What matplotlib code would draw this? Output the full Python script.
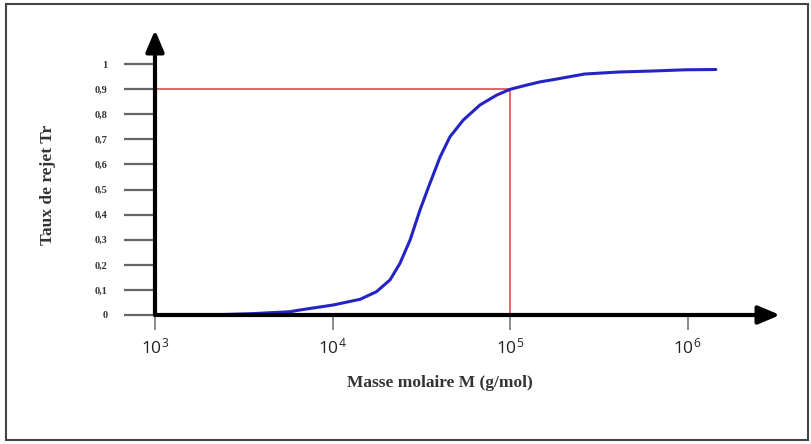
import matplotlib.pyplot as plt
from matplotlib.patches import Rectangle

# values
masse = [1950, 3430, 5750, 6560, 10100, 14300, 17700, 21100, 24000, 27400,
         31100, 35400, 40400, 45900, 54600, 67800, 84100, 100000, 124000, 148000,
         170000, 263000, 407000, 631000, 977000, 1445000]
taux = [0.0, 0.005, 0.013, 0.02, 0.04, 0.0625, 0.093, 0.14, 0.206, 0.30,
        0.418, 0.525, 0.63, 0.71, 0.777, 0.837, 0.876, 0.899, 0.916, 0.929,
        0.936, 0.96, 0.968, 0.972, 0.977, 0.978]

x_ticks = [1e3, 1e4, 1e5, 1e6]
x_labels = ["$\\mathregular{10^{3}}$", "$\\mathregular{10^{4}}$",
            "$\\mathregular{10^{5}}$", "$\\mathregular{10^{6}}$"]
y_ticks = [0, 0.1, 0.2, 0.3, 0.4, 0.5, 0.6, 0.7, 0.8, 0.9, 1.0]
y_labels = ["0", "0,1", "0,2", "0,3", "0,4", "0,5", "0,6", "0,7", "0,8", "0,9", "1"]

seuil_m = 1e5
seuil_t = 0.9

fig = plt.figure(figsize=(8.12, 4.44), dpi=100)
fig.patches.append(Rectangle((6 / 812, 4 / 444), 802 / 812, 436 / 444,
                             transform=fig.transFigure, fill=False,
                             edgecolor="#444444", linewidth=1.5))

ax = fig.add_axes([155 / 812, 1 - 315 / 444, 625 / 812, 285 / 444])
ax.set_xscale("log")
xmax = 10 ** (3 + 625 / 177.5)
ax.set_xlim(1e3, xmax)
ax.set_ylim(0, 285 / 251)
for s in ax.spines.values():
    s.set_visible(False)
ax.patch.set_alpha(0)

# threshold lines
ax.plot([1e3, seuil_m], [seuil_t, seuil_t], color="#e06666", lw=1.4, zorder=2)
ax.plot([seuil_m, seuil_m], [0, seuil_t], color="#e06666", lw=1.4, zorder=2)

ax.plot(masse, taux, color="#2424c4", lw=2.2, zorder=3,
        solid_joinstyle="round", solid_capstyle="round")

# axes with arrows
ax.annotate("", xy=(xmax, 0), xytext=(1e3, 0), xycoords="data",
            arrowprops=dict(arrowstyle="-|>,head_length=1.3,head_width=0.55",
                            color="black", lw=3, shrinkA=0, shrinkB=0),
            annotation_clip=False, zorder=5)
ax.annotate("", xy=(1e3, 285 / 251), xytext=(1e3, 0), xycoords="data",
            arrowprops=dict(arrowstyle="-|>,head_length=1.3,head_width=0.55",
                            color="black", lw=3, shrinkA=0, shrinkB=0),
            annotation_clip=False, zorder=5)

ax.set_xticks(x_ticks)
ax.set_xticklabels(x_labels, fontfamily="Open Sans", fontsize=12.5, color="#222222")
ax.xaxis.set_minor_locator(plt.NullLocator())
ax.tick_params(axis="x", length=11, width=1.2, color="#777777", pad=5)

ax.set_yticks(y_ticks)
ax.set_yticklabels(y_labels, fontfamily="Liberation Serif", fontsize=7.5,
                   fontweight="bold", color="#333333")
ax.tick_params(axis="y", length=22, width=1.6, color="#666666", pad=12)

fig.text(440 / 812, 1 - 383 / 444, "Masse molaire M (g/mol)", ha="center", va="center",
         fontfamily="Liberation Serif", fontsize=12.5, fontweight="bold", color="#333333")
fig.text(48 / 812, 1 - 185 / 444, "Taux de rejet Tr", ha="center", va="center", rotation=90,
         fontfamily="Liberation Serif", fontsize=12.5, fontweight="bold", color="#333333")

fig.savefig("out.png", dpi=100)
